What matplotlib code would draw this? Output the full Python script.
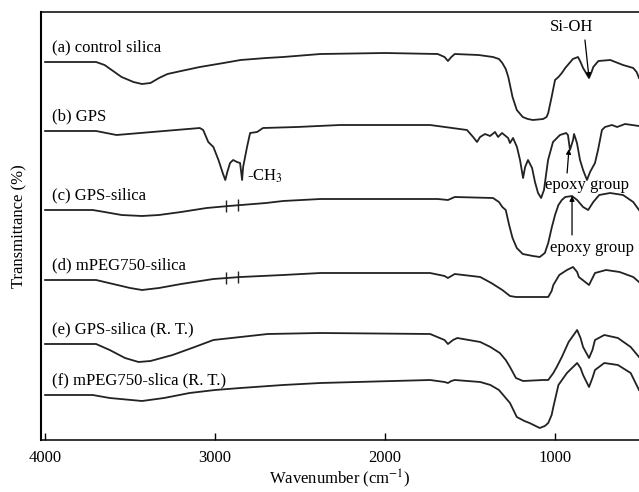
import numpy as np
import matplotlib
matplotlib.use('Agg')
import matplotlib.pyplot as plt

plt.rcParams['font.family'] = ['Liberation Serif', 'DejaVu Serif']
plt.rcParams['mathtext.fontset'] = 'stix'
plt.rcParams['font.size'] = 12

# FTIR spectra (wavenumber in cm-1, transmittance in a.u.)
wn_a = [4000, 3700, 3650, 3600, 3550, 3480, 3430, 3380, 3330, 3280, 3200, 3090, 2950, 2850,
        2700, 2600, 2380, 2000, 1690, 1650, 1630, 1610, 1590, 1450, 1365, 1330, 1310, 1290,
        1275, 1260, 1250, 1225, 1190, 1160, 1130, 1070, 1050, 1040, 1020, 1000, 980, 960,
        940, 915, 895, 865, 850, 835, 800, 785, 775, 745, 675, 600, 540, 520, 506]
t_a = [0, 0, -3, -9, -15, -20, -22, -21, -16, -12, -9, -5, -1, 2,
       4, 5, 8, 9, 8, 5, 1, 5, 8, 7, 5, 3, -1, -7,
       -15, -27, -35, -48, -55, -57, -58, -57, -55, -51, -35, -18, -15, -11,
       -6, -1, 3, 5, 0, -6, -16, -10, -5, 1, 2, -3, -6, -10, -16]

wn_b = [4000, 3700, 3580, 3440, 3090, 3070, 3040, 3010, 2980, 2955, 2940, 2928, 2912, 2894,
        2871, 2853, 2841, 2835, 2812, 2794, 2753, 2718, 2518, 2265, 1735, 1518, 1482, 1459,
        1441, 1412, 1382, 1353, 1335, 1312, 1276, 1265, 1247, 1224, 1206, 1188, 1176, 1159,
        1135, 1118, 1100, 1082, 1065, 1041, 1012, 971, 935, 924, 912, 894, 888, 871, 853,
        835, 812, 794, 765, 747, 724, 706, 665, 635, 588, 506]
t_b = [0, 0, -4, -2, 3, 1, -11, -16, -29, -42, -49, -41, -32, -29,
       -31, -32, -49, -36, -16, -2, -1, 3, 4, 6, 6, 1, -6, -11,
       -6, -3, -5, -1, -6, -2, -7, -12, -7, -16, -29, -47, -36, -29,
       -37, -51, -62, -67, -59, -29, -11, -4, -2, -4, -19, -9, -3, -12, -29,
       -39, -49, -41, -32, -19, 1, 4, 6, 4, 7, 5]

wn_c = [4000, 3720, 3650, 3550, 3430, 3330, 3200, 3050, 2920, 2700, 2600, 2380, 1690, 1630,
        1590, 1365, 1330, 1310, 1290, 1270, 1250, 1225, 1190, 1130, 1090, 1060, 1040, 1020,
        1000, 980, 960, 940, 900, 870, 835, 805, 775, 740, 676, 600, 540, 506]
t_c = [0, 0, -2, -5, -6, -5, -2, 2, 4, 7, 9, 11, 11, 10,
       13, 12, 8, 3, 0, -15, -28, -38, -44, -46, -47, -43, -33, -18,
       -5, 5, 10, 13, 14, 10, 3, 0, 8, 15, 17, 15, 8, 0]

wn_d = [4000, 3700, 3600, 3500, 3430, 3330, 3200, 3010, 2850, 2600, 2380, 1735, 1650, 1630,
        1610, 1590, 1440, 1375, 1310, 1265, 1230, 1190, 1040, 1020, 1010, 975, 930, 894,
        870, 860, 800, 765, 700, 620, 540, 506]
t_d = [0, 0, -4, -8, -10, -8, -4, 1, 3, 5, 7, 7, 4, 2,
       4, 6, 3, -3, -10, -16, -17, -17, -17, -11, -5, 5, 10, 13,
       8, 3, -5, 7, 10, 8, 3, -2]

wn_e = [4000, 3700, 3620, 3530, 3450, 3380, 3250, 3120, 3010, 2850, 2690, 2380, 1735, 1650,
        1630, 1600, 1575, 1440, 1380, 1325, 1290, 1265, 1230, 1188, 1070, 1040, 1010, 990,
        960, 920, 870, 850, 835, 800, 780, 765, 710, 630, 555, 506]
t_e = [0, 0, -6, -14, -18, -17, -11, -3, 4, 7, 10, 11, 10, 4,
       0, 4, 6, 2, -3, -9, -16, -23, -34, -37, -36, -36, -29, -23,
       -13, 2, 14, 6, -3, -14, -6, 4, 9, 6, -3, -13]

wn_f = [4000, 3720, 3620, 3430, 3300, 3150, 3000, 2850, 2600, 2380, 1735, 1650, 1630, 1610,
        1590, 1440, 1380, 1330, 1300, 1265, 1225, 1180, 1150, 1090, 1060, 1040, 1020, 1010,
        980, 930, 870, 850, 835, 800, 780, 765, 710, 630, 555, 506]
t_f = [0, 0, -3, -6, -3, 2, 5, 7, 10, 12, 15, 13, 12, 14,
       15, 13, 10, 5, -1, -8, -22, -26, -28, -33, -31, -28, -20, -12,
       10, 22, 32, 27, 20, 8, 17, 25, 32, 30, 22, 5]

labels = ['(a) control silica', '(b) GPS', '(c) GPS-silica', '(d) mPEG750-silica',
          '(e) GPS-silica (R. T.)', '(f) mPEG750-slica (R. T.)']
offsets = [378, 309, 230, 160, 96, 45]
ch3_marks = [2935, 2865]

spectra = [(wn_a, t_a), (wn_b, t_b), (wn_c, t_c), (wn_d, t_d), (wn_e, t_e), (wn_f, t_f)]

fig = plt.figure(figsize=(6.39, 4.92), dpi=100)
ax = fig.add_axes([0.0642, 0.1057, 0.9358, 0.8699])

for (w, t), off, lab in zip(spectra, offsets, labels):
    y = np.array(t) + off
    ax.plot(w, y, color='#222222', lw=1.3, solid_joinstyle='round')
    ax.text(3959, off + 15, lab, ha='left', va='center', fontsize=12)

# small marks on the CH stretching positions of (c) and (d)
for (w, t), off in [(spectra[2], offsets[2]), (spectra[3], offsets[3])]:
    yc = np.interp(ch3_marks, w[::-1], (np.array(t) + off)[::-1])
    ax.vlines(ch3_marks, yc - 6, yc + 6, color='#222222', lw=1)

arrow = dict(arrowstyle='-|>', color='black', lw=0.9, mutation_scale=7, shrinkA=0, shrinkB=0)

ax.text(900, 413, 'Si-OH', ha='center', va='center', fontsize=12)
ax.annotate('', xy=(800, offsets[0] + np.interp(800, wn_a[::-1], t_a[::-1])),
            xytext=(824, 400), arrowprops=arrow)

ax.text(2812, 264, '-CH$_3$', ha='left', va='center', fontsize=12)

ax.text(1059, 255, 'epoxy group', ha='left', va='center', fontsize=12)
ax.annotate('', xy=(918, 291), xytext=(929, 267), arrowprops=arrow)

ax.text(1029, 192, 'epoxy group', ha='left', va='center', fontsize=12)
ax.annotate('', xy=(900, offsets[2] + np.interp(900, wn_c[::-1], t_c[::-1])),
            xytext=(900, 205), arrowprops=arrow)

ax.set_xlim(4024, 506)
ax.set_ylim(0, 428)
ax.set_xticks([4000, 3000, 2000, 1000])
ax.set_yticks([])
ax.tick_params(axis='x', direction='in', length=5, width=1, pad=7, labelsize=12)
ax.spines['right'].set_visible(False)
ax.spines['left'].set_linewidth(1.5)
ax.spines['bottom'].set_linewidth(1.1)
ax.spines['top'].set_linewidth(1.1)

ax.set_xlabel('Wavenumber (cm$^{-1}$)', fontsize=12, labelpad=1)
ax.set_ylabel('Transmittance (%)', fontsize=12, labelpad=10)

fig.savefig('out.png', dpi=100)
